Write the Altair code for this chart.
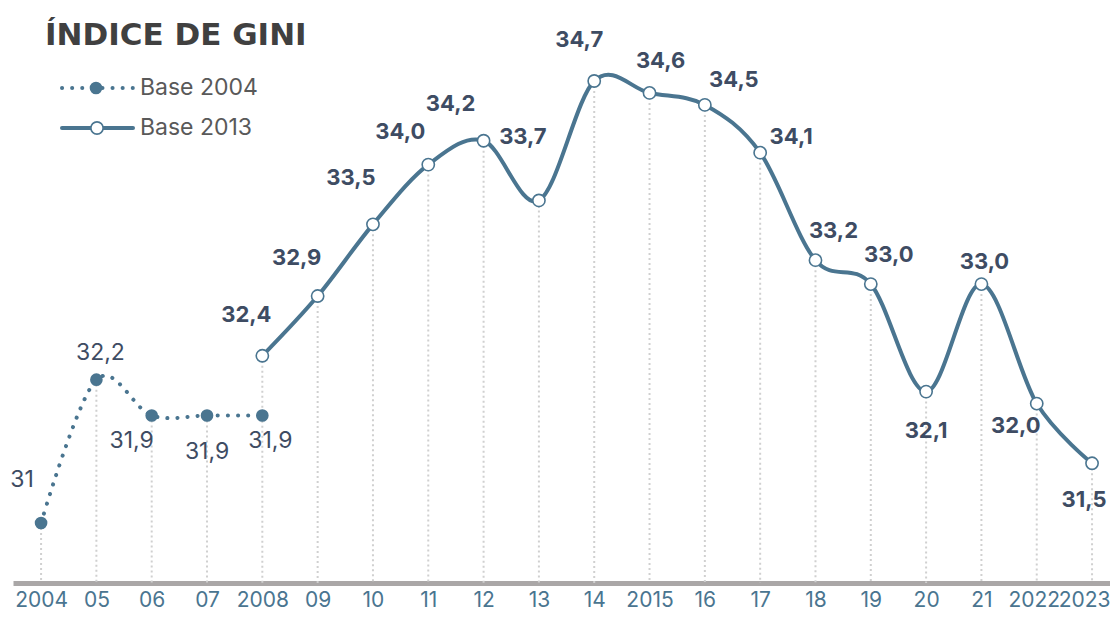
import altair as alt
import pandas as pd

years = ["2004", "05", "06", "07", "2008", "09", "10", "11", "12", "13",
         "14", "2015", "16", "17", "18", "19", "20", "21", "2022", "2023"]

base2004_years = ["2004", "05", "06", "07", "2008"]
base2004_vals = [31.0, 32.2, 31.9, 31.9, 31.9]
base2004_text = ["31", "32,2", "31,9", "31,9", "31,9"]

base2013_years = ["2008", "09", "10", "11", "12", "13", "14", "2015", "16",
                  "17", "18", "19", "20", "21", "2022", "2023"]
base2013_vals = [32.4, 32.9, 33.5, 34.0, 34.2, 33.7, 34.7, 34.6, 34.5,
                 34.1, 33.2, 33.0, 32.1, 33.0, 32.0, 31.5]
base2013_text = ["32,4", "32,9", "33,5", "34,0", "34,2", "33,7", "34,7", "34,6",
                 "34,5", "34,1", "33,2", "33,0", "32,1", "33,0", "32,0", "31,5"]

# label placement (pixel offsets from the point), styling only
off2004 = {"2004": (-19, -43), "05": (4, -27), "06": (-20, 25), "07": (0, 36), "2008": (8, 25)}
off2013 = {"2008": (-16, -41), "09": (-21, -38), "10": (-22, -46), "11": (-28, -33),
           "12": (-33, -37), "13": (-16, -63), "14": (-15, -41), "2015": (11, -32),
           "16": (29, -25), "17": (31, -16), "18": (18, -29), "19": (18, -29),
           "20": (0, 39), "21": (3, -22), "2022": (-21, 22), "2023": (-8, 37)}

LINE = "#4a7590"
LABEL = "#3e4c63"
FONT = "Inter"
YMIN, YMAX = 30.498, 35.311

d04 = pd.DataFrame({"year": base2004_years, "v": base2004_vals, "t": base2004_text})
d13 = pd.DataFrame({"year": base2013_years, "v": base2013_vals, "t": base2013_text})

# drop lines: highest value per year
allv = pd.concat([d04, d13])
drop = allv.groupby("year", as_index=False)["v"].max()
drop["base"] = YMIN

xs = alt.X("year:N", sort=years,
           scale=alt.Scale(type="point", padding=0.416, align=0.61, domain=years),
           axis=alt.Axis(title=None, labelAngle=0, ticks=False, grid=False,
                         domainColor="#aaa7a7", domainWidth=5,
                         labelColor=LINE, labelFont=FONT, labelFontSize=21,
                         labelBaseline="alphabetic",
                         labelOffset={"condition": [
                             {"test": "datum.label == '2023'", "value": -8},
                             {"test": "datum.label == '2022'", "value": -3}],
                             "value": 0},
                         labelPadding=23, labelOverlap=False, labelFlush=False))
ys = alt.Y("v:Q", scale=alt.Scale(domain=[YMIN, YMAX], nice=False, zero=False), axis=None)

rules = alt.Chart(drop).mark_rule(color="#d0d0d0", strokeWidth=2, strokeDash=[2, 3]).encode(
    x=xs, y=ys, y2="base:Q")

line04 = alt.Chart(d04).mark_line(color=LINE, strokeWidth=4, strokeDash=[0.1, 10],
                                  strokeCap="round", interpolate="cardinal").encode(x=xs, y=ys)
pts04 = alt.Chart(d04).mark_point(filled=True, color=LINE, size=160, opacity=1).encode(x=xs, y=ys)

line13 = alt.Chart(d13).mark_line(color=LINE, strokeWidth=4, interpolate="cardinal").encode(x=xs, y=ys)
pts13 = alt.Chart(d13).mark_point(filled=True, fill="white", stroke=LINE, strokeWidth=1.6,
                                  size=150, opacity=1).encode(x=xs, y=ys)

layers = [rules, line04, line13, pts04, pts13]

for yr, (dx, dy) in off2004.items():
    layers.append(alt.Chart(d04).transform_filter(alt.datum.year == yr).mark_text(
        font=FONT, fontSize=23, color=LABEL, dx=dx, dy=dy, align="center", baseline="middle"
    ).encode(x=xs, y=ys, text="t:N"))

for yr, (dx, dy) in off2013.items():
    layers.append(alt.Chart(d13).transform_filter(alt.datum.year == yr).mark_text(
        font=FONT, fontSize=22, fontWeight="bold", color=LABEL, dx=dx, dy=dy,
        align="center", baseline="middle"
    ).encode(x=xs, y=ys, text="t:N"))

one = pd.DataFrame({"a": [0]})
title = alt.Chart(one).mark_text(text="ÍNDICE DE GINI", font="DejaVu Sans", fontSize=31,
                                 fontWeight="bold", color="#404040", align="left",
                                 baseline="alphabetic").encode(
    x=alt.value(32), y=alt.value(37))

leg_line1 = alt.Chart(one).mark_rule(color=LINE, strokeWidth=4, strokeDash=[0.1, 10],
                                     strokeCap="round").encode(
    x=alt.value(49), x2=alt.value(121), y=alt.value(80))
leg_pt1 = alt.Chart(one).mark_point(filled=True, color=LINE, size=160, opacity=1).encode(
    x=alt.value(83), y=alt.value(80))
leg_txt1 = alt.Chart(one).mark_text(text="Base 2004", font=FONT, fontSize=23, color="#595959",
                                    align="left", baseline="middle").encode(
    x=alt.value(127), y=alt.value(80))
leg_line2 = alt.Chart(one).mark_rule(color=LINE, strokeWidth=4, strokeCap="round").encode(
    x=alt.value(49), x2=alt.value(120), y=alt.value(120))
leg_pt2 = alt.Chart(one).mark_point(filled=True, fill="white", stroke=LINE, strokeWidth=1.6,
                                    size=150, opacity=1).encode(x=alt.value(84), y=alt.value(120))
leg_txt2 = alt.Chart(one).mark_text(text="Base 2013", font=FONT, fontSize=23, color="#595959",
                                    align="left", baseline="middle").encode(
    x=alt.value(127), y=alt.value(120))

layers += [title, leg_line1, leg_pt1, leg_txt1, leg_line2, leg_pt2, leg_txt2]

chart = alt.layer(*layers).properties(
    width=1097, height=575,
    autosize=alt.AutoSizeParams(type="none"),
    padding={"left": 5, "top": 0, "right": 0, "bottom": 28},
).configure_view(stroke=None)

chart.save("out.html", embed_options={"renderer": "svg", "actions": False})
